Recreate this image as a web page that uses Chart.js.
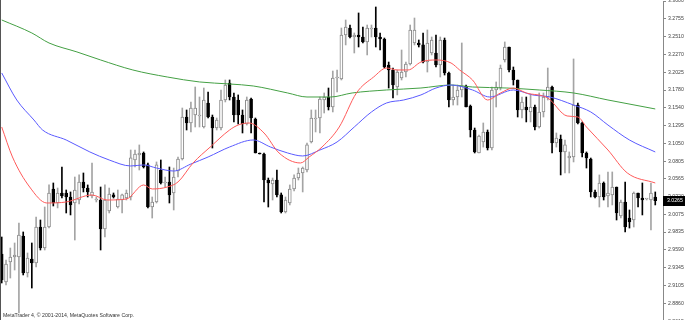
<!DOCTYPE html>
<html>
<head>
<meta charset="utf-8">
<script src="https://cdn.jsdelivr.net/npm/chart.js@4/dist/chart.umd.min.js"></script>
<style>
  html, body { margin: 0; padding: 0; background: #fff; }
  #wrap { width: 685px; height: 320px; position: relative; }
</style>
</head>
<body>
<div id="wrap"><canvas id="myChart"></canvas></div>
<script>
// candle values, one per bar, left to right
let opens = [
  2.9534, 2.9151, 2.9425, 2.9493, 2.9493, 2.9781, 2.9274, 2.9466, 2.9411, 2.9904,
  2.9616, 2.9904, 3.0425, 3.0233, 3.0370, 3.0370, 3.0315, 3.0233, 3.0274, 3.0521,
  3.0438, 3.0329, 3.0274, 3.0274, 2.9877, 3.0123, 3.0343, 3.0178, 3.0274, 3.0301,
  3.0315, 3.0822, 3.0891, 3.0918, 3.0754, 3.0178, 3.0247, 3.0685, 3.0507, 3.0521,
  3.0370, 3.0671, 3.0836, 3.1411, 3.1329, 3.1438, 3.1425, 3.1274, 3.1603, 3.1411,
  3.1260, 3.1260, 3.1644, 3.1877, 3.1685, 3.1644, 3.1438, 3.1315, 3.1658, 3.1384,
  3.0918, 3.0904, 3.0548, 3.0493, 3.0548, 3.0343, 3.0110, 3.0233, 3.0425, 3.0575,
  3.0644, 3.0685, 3.1069, 3.1384, 3.1397, 3.1644, 3.1685, 3.1548, 3.1945, 3.1932,
  3.2534, 3.2630, 3.2507, 3.2534, 3.2507, 3.2439, 3.2617, 3.2630, 3.2507, 3.2480,
  3.2123, 3.2055, 3.1822, 3.1945, 3.2027, 3.2137, 3.2425, 3.2425, 3.2398, 3.2164,
  3.2288, 3.2288, 3.2123, 3.2466, 3.2014, 3.1644, 3.1685, 3.1781, 3.1836, 3.1562,
  3.1233, 3.0918, 3.1069, 3.1206, 3.0986, 3.1781, 3.1808, 3.2192, 3.2370, 3.2055,
  3.1918, 3.1507, 3.1548, 3.1480, 3.1548, 3.1274, 3.1480, 3.1685, 3.1822, 3.1055,
  3.1110, 3.0932, 3.0849, 3.0863, 3.1575, 3.1329, 3.0918, 3.0836, 3.0384, 3.0315,
  3.0507, 3.0329, 3.0343, 3.0452, 3.0055, 3.0247, 3.0027, 3.0000, 3.0370, 3.0301,
  3.0288, 3.0274, 3.0315
];
let highs = [
  2.9767, 2.9452, 2.9616, 2.9685, 2.9959, 2.9836, 2.9548, 2.9685, 3.0041, 3.0000,
  3.0178, 3.0480, 3.0507, 3.0438, 3.0726, 3.0411, 3.0384, 3.0589, 3.0617, 3.0644,
  3.0480, 3.0781, 3.0315, 3.0452, 3.0480, 3.0438, 3.0370, 3.0411, 3.0356, 3.0411,
  3.0959, 3.0959, 3.1028, 3.0932, 3.0781, 3.0315, 3.0795, 3.0822, 3.0589, 3.0726,
  3.0712, 3.0863, 3.1534, 3.1507, 3.1617, 3.1822, 3.1685, 3.1808, 3.1754, 3.1438,
  3.1397, 3.1781, 3.1918, 3.1918, 3.1740, 3.1713, 3.1507, 3.1685, 3.1671, 3.1397,
  3.0918, 3.0918, 3.0575, 3.0575, 3.0685, 3.0370, 3.0315, 3.0480, 3.0617, 3.0712,
  3.0726, 3.1055, 3.1507, 3.1507, 3.1685, 3.1740, 3.1808, 3.2041, 3.2055, 3.2630,
  3.2740, 3.2671, 3.2562, 3.2836, 3.2644, 3.2671, 3.2671, 3.2918, 3.2562, 3.2493,
  3.2164, 3.2082, 3.2055, 3.2329, 3.2164, 3.2671, 3.2767, 3.2466, 3.2562, 3.2603,
  3.2507, 3.2534, 3.2507, 3.2493, 3.2027, 3.1849, 3.1849, 3.2425, 3.1849, 3.1575,
  3.1260, 3.1164, 3.1329, 3.1233, 3.1822, 3.1891, 3.2123, 3.2439, 3.2370, 3.2096,
  3.1918, 3.1685, 3.1685, 3.1713, 3.1575, 3.1740, 3.1740, 3.2082, 3.1836, 3.1192,
  3.1164, 3.1096, 3.0932, 3.2206, 3.1603, 3.1343, 3.0932, 3.0849, 3.0411, 3.0617,
  3.0521, 3.0658, 3.0658, 3.0452, 3.0274, 3.0521, 3.0137, 3.0384, 3.0370, 3.0507,
  3.0288, 3.0507, 3.0384
];
let lows = [
  2.9137, 2.9110, 2.9205, 2.9315, 2.8726, 2.9247, 2.9219, 2.9068, 2.9356, 2.9589,
  2.9589, 2.9890, 3.0192, 3.0165, 3.0301, 3.0096, 3.0069, 2.9726, 3.0219, 3.0384,
  3.0315, 3.0301, 3.0247, 2.9589, 2.9767, 3.0096, 3.0301, 3.0164, 3.0096, 3.0274,
  3.0274, 3.0726, 3.0685, 3.0712, 3.0164, 3.0027, 3.0233, 3.0493, 3.0452, 3.0233,
  3.0137, 3.0589, 3.0822, 3.1233, 3.1206, 3.1274, 3.1274, 3.1260, 3.1397, 3.0986,
  3.1233, 3.1233, 3.1617, 3.1644, 3.1343, 3.1315, 3.1192, 3.1301, 3.1192, 3.0918,
  3.0904, 3.0247, 3.0178, 3.0274, 3.0315, 3.0096, 3.0096, 3.0206, 3.0397, 3.0548,
  3.0384, 3.0658, 3.1055, 3.1206, 3.1192, 3.1466, 3.1507, 3.1480, 3.1754, 3.1918,
  3.2398, 3.2493, 3.2288, 3.2370, 3.2425, 3.2261, 3.2507, 3.2370, 3.2329, 3.2082,
  3.1808, 3.1671, 3.1713, 3.1918, 3.1959, 3.2123, 3.2398, 3.2370, 3.2151, 3.2027,
  3.2261, 3.2096, 3.1959, 3.1986, 3.1548, 3.1575, 3.1575, 3.1685, 3.1548, 3.1137,
  3.0918, 3.0918, 3.0999, 3.0959, 3.0959, 3.1548, 3.1781, 3.2164, 3.2027, 3.1849,
  3.1411, 3.1397, 3.1343, 3.1343, 3.1233, 3.1260, 3.1411, 3.1644, 3.0918, 3.0999,
  3.0617, 3.0644, 3.0644, 3.0795, 3.1315, 3.0863, 3.0712, 3.0315, 3.0301, 3.0178,
  3.0274, 3.0178, 3.0206, 3.0000, 3.0027, 2.9836, 2.9890, 2.9904, 3.0178, 3.0069,
  3.0274, 2.9863, 3.0206
];
let closes = [
  2.9178, 2.9397, 2.9493, 2.9521, 2.9795, 2.9274, 2.9479, 2.9411, 2.9904, 2.9616,
  2.9904, 3.0370, 3.0233, 3.0370, 3.0329, 3.0315, 3.0206, 3.0411, 3.0521, 3.0438,
  3.0384, 3.0384, 3.0274, 2.9877, 3.0274, 3.0356, 3.0315, 3.0288, 3.0343, 3.0370,
  3.0850, 3.0904, 3.0918, 3.0726, 3.0178, 3.0247, 3.0754, 3.0507, 3.0521, 3.0343,
  3.0589, 3.0836, 3.1411, 3.1329, 3.1534, 3.1534, 3.1425, 3.1644, 3.1411, 3.1260,
  3.1370, 3.1644, 3.1849, 3.1685, 3.1438, 3.1438, 3.1315, 3.1644, 3.1397, 3.0918,
  3.0904, 3.0548, 3.0507, 3.0548, 3.0343, 3.0110, 3.0274, 3.0425, 3.0575, 3.0644,
  3.0712, 3.1028, 3.1397, 3.1397, 3.1658, 3.1685, 3.1548, 3.1945, 3.1945, 3.2534,
  3.2644, 3.2507, 3.2534, 3.2507, 3.2439, 3.2630, 3.2630, 3.2507, 3.2480, 3.2096,
  3.2055, 3.1849, 3.2027, 3.2027, 3.2137, 3.2603, 3.2603, 3.2398, 3.2164, 3.2425,
  3.2466, 3.2123, 3.2466, 3.2014, 3.1644, 3.1685, 3.1781, 3.1836, 3.1548, 3.1233,
  3.0932, 3.1151, 3.1206, 3.0986, 3.1781, 3.1822, 3.2082, 3.2370, 3.2055, 3.1918,
  3.1507, 3.1617, 3.1507, 3.1548, 3.1274, 3.1480, 3.1685, 3.1822, 3.1055, 3.1123,
  3.0932, 3.1028, 3.0877, 3.1575, 3.1329, 3.0918, 3.0849, 3.0384, 3.0315, 3.0507,
  3.0315, 3.0370, 3.0452, 3.0096, 3.0247, 2.9904, 2.9973, 3.0370, 3.0301, 3.0274,
  3.0288, 3.0370, 3.0265
];

// moving averages, read at some bars (bar number, price)
let redIdx = [0, 2.5, 6.5, 10.5, 15, 21, 24.5, 29, 33, 35, 38.5, 41, 44.5, 48.5, 53, 55, 57.5, 61, 64.5, 69.5, 71.5, 74.5, 78.5, 82.5, 86.5, 89.5, 92, 94.5, 97.5, 101, 104.5, 106.5, 109.5, 113, 116, 119, 122, 127, 131.5, 134, 136, 141, 145.5, 152];
let redVal = [3.1274, 3.0863, 3.0452, 3.0233, 3.0247, 3.0343, 3.0274, 3.0288, 3.0480, 3.0425, 3.0452, 3.0521, 3.0781, 3.1000, 3.1233, 3.1301, 3.1329, 3.1192, 3.0918, 3.0781, 3.0863, 3.1000, 3.1274, 3.1740, 3.1959, 3.2082, 3.2055, 3.2055, 3.2164, 3.2192, 3.2151, 3.2055, 3.1918, 3.1644, 3.1740, 3.1808, 3.1740, 3.1671, 3.1425, 3.1411, 3.1274, 3.0959, 3.0644, 3.0507];
let blueIdx = [0, 3.5, 7.5, 9.5, 15, 20.5, 25, 30, 33, 36, 40, 44, 48, 53, 58.5, 62.5, 66.5, 70, 74, 78, 82, 86, 89.5, 93.5, 97.5, 101, 104.5, 109.5, 113.5, 119, 123.5, 127.5, 133, 137, 141, 146, 152];
let blueVal = [3.2014, 3.1644, 3.1370, 3.1233, 3.1096, 3.0932, 3.0822, 3.0740, 3.0754, 3.0712, 3.0671, 3.0767, 3.0863, 3.1000, 3.1096, 3.1000, 3.0918, 3.0877, 3.0959, 3.1069, 3.1274, 3.1480, 3.1603, 3.1644, 3.1713, 3.1808, 3.1849, 3.1781, 3.1685, 3.1781, 3.1713, 3.1685, 3.1575, 3.1480, 3.1301, 3.1096, 3.0932];
let greenIdx = [0, 7, 11, 17.5, 23, 30.5, 38.5, 46, 53, 58.5, 66.5, 71, 76.5, 81.5, 89.5, 97.5, 104.5, 109.5, 117.5, 125, 133, 141, 152];
let greenVal = [3.2740, 3.2562, 3.2425, 3.2302, 3.2192, 3.2055, 3.1959, 3.1891, 3.1863, 3.1836, 3.1740, 3.1685, 3.1685, 3.1740, 3.1781, 3.1808, 3.1849, 3.1822, 3.1808, 3.1781, 3.1740, 3.1644, 3.1521];

// price scale labels on the right
let tickLabels = ['3.3000', '3.2755', '3.2510', '3.2270', '3.2025', '3.1780', '3.1540', '3.1295', '3.1050', '3.0805',
  '3.0565', '3.0320', '3.0075', '2.9835', '2.9590', '2.9345', '2.9105', '2.8860', '2.8615'];
let currentPrice = '3.0265';
let copyright = 'MetaTrader 4, \u00a9 2001-2014, MetaQuotes Software Corp.';

function isBull(i) {
  return closes[i] >= opens[i];
}

function lineSet(idx, vals, color) {
  return {
    type: 'line',
    data: idx.map((x, k) => ({ x: x, y: vals[k] })),
    borderColor: color,
    borderWidth: 1,
    pointRadius: 0,
    cubicInterpolationMode: 'monotone',
    order: 0
  };
}

// extra drawing: frame line, copyright and the price box
const mtExtras = {
  id: 'mtExtras',
  afterDraw(chart) {
    let c = chart.ctx;
    let area = chart.chartArea;
    c.save();
    c.strokeStyle = '#555';
    c.lineWidth = 1;
    c.beginPath();
    c.moveTo(0.5, 0);
    c.lineTo(0.5, chart.height);
    c.stroke();

    c.fillStyle = '#333';
    c.font = '5.2px "Liberation Sans"';
    c.textBaseline = 'alphabetic';
    c.fillText(copyright, 3, 317);

    let y = chart.scales.y.getPixelForValue(closes[closes.length - 1]);
    c.fillStyle = '#000';
    c.fillRect(area.right, Math.round(y) - 5, chart.width - area.right, 10);
    c.fillStyle = '#fff';
    c.textBaseline = 'middle';
    c.fillText(currentPrice, area.right + 4, Math.round(y));
    c.restore();
  }
};

let ctx = document.getElementById('myChart');
let myChart = new Chart(ctx, {
  type: 'bar',
  data: {
    datasets: [
      lineSet(redIdx, redVal, '#ff5a5a'),
      lineSet(blueIdx, blueVal, '#5a5aff'),
      lineSet(greenIdx, greenVal, '#44a044'),
      {
        // candle bodies
        data: opens.map((o, i) => ({ x: i, y: [o, closes[i]] })),
        backgroundColor: opens.map((o, i) => isBull(i) ? '#ffffff' : '#000000'),
        borderColor: opens.map((o, i) => isBull(i) ? '#8a8a8a' : '#000000'),
        borderWidth: 1,
        borderSkipped: false,
        barThickness: 3,
        minBarLength: 1,
        grouped: false,
        order: 1
      },
      {
        // wicks
        data: highs.map((h, i) => ({ x: i, y: [lows[i], h] })),
        backgroundColor: opens.map((o, i) => isBull(i) ? '#a4a4a4' : '#000000'),
        borderWidth: 0,
        barThickness: 1,
        grouped: false,
        order: 2
      }
    ]
  },
  options: {
    responsive: true,
    maintainAspectRatio: false,
    animation: false,
    layout: { padding: { top: 1, left: 0, right: 0, bottom: 0 } },
    plugins: { legend: { display: false }, tooltip: { enabled: false } },
    scales: {
      x: {
        type: 'linear',
        display: false,
        offset: false,
        min: -0.4,
        max: 153.8
      },
      y: {
        position: 'right',
        min: 2.863,
        max: 3.3,
        afterBuildTicks: (s) => {
          s.ticks = tickLabels.map((t) => ({ value: parseFloat(t) }));
        },
        afterFit: (s) => {
          s.width = 22;
          s.paddingTop = 0;
          s.paddingBottom = 0;
        },
        ticks: {
          autoSkip: false,
          padding: 2,
          color: '#444',
          font: { size: 5.2, family: 'Liberation Sans' },
          callback: (v, i) => tickLabels[i]
        },
        grid: { drawOnChartArea: false, tickLength: 3, color: '#888' },
        border: { color: '#888' }
      }
    }
  },
  plugins: [mtExtras]
});
</script>
</body>
</html>
